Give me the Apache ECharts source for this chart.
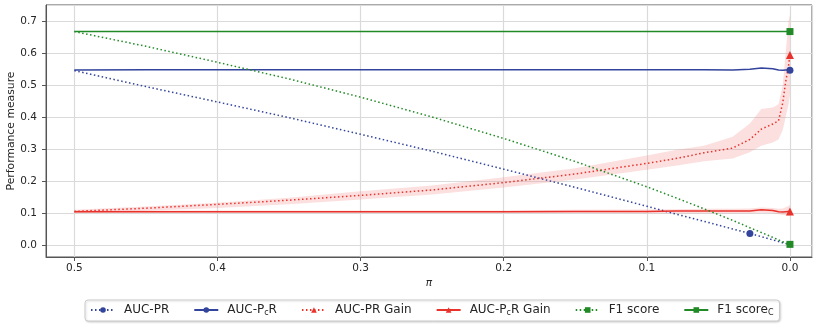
<!DOCTYPE html>
<html>
<head>
<meta charset="utf-8">
<script src="https://cdn.jsdelivr.net/npm/echarts@6/dist/echarts.min.js"></script>
<style>
  html, body { margin: 0; padding: 0; background: #fff; }
  #chart { width: 814px; height: 324px; }
</style>
</head>
<body>
<div id="chart"></div>
<script>
// Class prior π (x axis, drawn decreasing to the right)
const piValues = [0.5, 0.45, 0.4, 0.35, 0.3, 0.25, 0.2, 0.15, 0.1, 0.08, 0.06, 0.04, 0.028, 0.02, 0.012, 0.008, 0.005, 0.003, 0.001, 0];

// Performance measures at each π
const aucPR       = [0.545, 0.495, 0.447, 0.398, 0.346, 0.293, 0.237, 0.180, 0.121, 0.097, 0.074, 0.050, 0.036, 0.026, 0.016, 0.011, 0.007, 0.005, 0.003, 0.002];
const aucPcR      = [0.547, 0.548, 0.548, 0.548, 0.548, 0.548, 0.548, 0.548, 0.548, 0.548, 0.548, 0.547, 0.549, 0.553, 0.551, 0.547, 0.546, 0.547, 0.547, 0.546];
const aucPRGain   = [0.105, 0.115, 0.127, 0.140, 0.155, 0.172, 0.195, 0.222, 0.255, 0.270, 0.288, 0.303, 0.330, 0.362, 0.378, 0.388, 0.445, 0.510, 0.560, 0.594];
const aucPcRGain  = [0.104, 0.104, 0.104, 0.104, 0.104, 0.104, 0.104, 0.105, 0.105, 0.106, 0.106, 0.106, 0.106, 0.110, 0.108, 0.104, 0.103, 0.104, 0.105, 0.105];
const f1Score     = [0.667, 0.621, 0.571, 0.519, 0.462, 0.400, 0.333, 0.261, 0.182, 0.148, 0.113, 0.077, 0.054, 0.039, 0.024, 0.016, 0.010, 0.006, 0.002, 0.002];
const f1ScoreC    = [0.667, 0.667, 0.667, 0.667, 0.667, 0.667, 0.667, 0.667, 0.667, 0.667, 0.667, 0.667, 0.667, 0.667, 0.667, 0.667, 0.667, 0.667, 0.667, 0.667];

// Spread (lower / upper) around the gain curves
const aucPRGainLow  = [0.100, 0.107, 0.116, 0.127, 0.142, 0.158, 0.180, 0.205, 0.235, 0.248, 0.262, 0.270, 0.290, 0.310, 0.320, 0.330, 0.360, 0.400, 0.440, 0.470];
const aucPRGainHigh = [0.110, 0.120, 0.132, 0.148, 0.168, 0.186, 0.212, 0.240, 0.280, 0.297, 0.310, 0.338, 0.380, 0.425, 0.430, 0.440, 0.500, 0.600, 0.700, 0.720];
const aucPcRGainLow  = [0.100, 0.100, 0.100, 0.100, 0.100, 0.100, 0.100, 0.100, 0.099, 0.099, 0.099, 0.099, 0.099, 0.101, 0.099, 0.096, 0.094, 0.093, 0.091, 0.090];
const aucPcRGainHigh = [0.108, 0.108, 0.108, 0.108, 0.108, 0.108, 0.108, 0.110, 0.111, 0.112, 0.113, 0.113, 0.114, 0.117, 0.116, 0.113, 0.114, 0.118, 0.122, 0.125];

const seriesNames  = ['AUC-PR', 'AUC-PcR', 'AUC-PR Gain', 'AUC-PcR Gain', 'F1 score', 'F1 scoreC'];
const legendLabels = ['AUC-PR', 'AUC-P{s|c}R', 'AUC-PR Gain', 'AUC-P{s|c}R Gain', 'F1 score', 'F1 score{s|C}'];
const markerIndex  = [12, 19, 19, 19, 19, 19];

const BLUE = '#33449c', RED = '#e8322b', GREEN = '#218a26';
const DOTS = [1.5, 2.5];

const chart = echarts.init(document.getElementById('chart'), null, { renderer: 'canvas' });

function points(vals, mark) {
  return piValues.map((x, i) => i === mark
    ? { value: [x, vals[i]] }
    : { value: [x, vals[i]], symbol: 'none' });
}

function lineSeries(idx, vals, color, dotted, symbol, size) {
  return {
    type: 'line',
    name: seriesNames[idx],
    data: points(vals, markerIndex[idx]),
    symbol: symbol,
    symbolSize: size,
    showSymbol: true,
    showAllSymbol: true,
    animation: false,
    z: 3,
    lineStyle: { color: color, width: 1.5, type: dotted ? DOTS : 'solid', cap: 'butt' },
    itemStyle: { color: color, borderWidth: 0 },
    emphasis: { disabled: true }
  };
}

function bandSeries(low, high, fill) {
  return {
    type: 'custom',
    silent: true,
    animation: false,
    z: 1,
    data: piValues.map((x, i) => [x, low[i], high[i]]),
    encode: { x: 0, y: [1, 2] },
    renderItem: function (params, api) {
      if (params.dataIndex !== 0) return null;
      const upper = piValues.map((x, i) => api.coord([x, high[i]]));
      const lower = piValues.map((x, i) => api.coord([x, low[i]])).reverse();
      return {
        type: 'polygon',
        shape: { points: upper.concat(lower) },
        style: { fill: fill, stroke: null }
      };
    }
  };
}

const labelColor = '#262626';
const spine = '#555555';

const option = {
  backgroundColor: '#ffffff',
  animation: false,
  textStyle: { fontFamily: 'DejaVu Sans' },
  grid: {
    left: 46, right: 2, top: 5, bottom: 67,
    show: true, borderColor: spine, borderWidth: 1,
    containLabel: false, outerBoundsMode: 'none'
  },
  xAxis: {
    type: 'value',
    inverse: true,
    min: -0.0154,
    max: 0.5198,
    splitNumber: 5,
    name: 'π',
    nameLocation: 'middle',
    nameGap: 21,
    nameMoveOverlap: false,
    nameTextStyle: { fontStyle: 'italic', fontSize: 10.5, color: labelColor, fontFamily: 'DejaVu Sans' },
    axisLine: { show: true, onZero: false, lineStyle: { color: spine, width: 1 } },
    axisTick: { show: true, inside: false, length: 4, lineStyle: { color: spine } },
    axisLabel: {
      fontSize: 10.5, color: labelColor, margin: 6, showMinLabel: false, showMaxLabel: false,
      formatter: v => v.toFixed(1)
    },
    splitLine: { show: true, lineStyle: { color: '#dadada', width: 1.2 } }
  },
  yAxis: {
    type: 'value',
    min: -0.0375,
    max: 0.75,
    splitNumber: 7,
    name: 'Performance measure',
    nameLocation: 'middle',
    nameGap: 29,
    nameMoveOverlap: false,
    nameTextStyle: { fontSize: 10.8, color: labelColor, fontFamily: 'DejaVu Sans' },
    axisLine: { show: true, onZero: false, lineStyle: { color: spine, width: 1 } },
    axisTick: { show: true, inside: false, length: 4, lineStyle: { color: spine } },
    axisLabel: {
      fontSize: 10.5, color: labelColor, margin: 9, showMinLabel: false, showMaxLabel: false,
      formatter: v => v.toFixed(1)
    },
    splitLine: { show: true, lineStyle: { color: '#dadada', width: 1.2 } }
  },
  legend: {
    data: seriesNames,
    left: 85,
    top: 300,
    orient: 'horizontal',
    itemWidth: 24,
    itemHeight: 7,
    itemGap: 24,
    padding: [4, 6, 4, 5],
    borderColor: '#cccccc',
    borderWidth: 1,
    borderRadius: 3,
    backgroundColor: '#ffffff',
    shadowColor: 'rgba(0,0,0,0.15)',
    shadowBlur: 2,
    shadowOffsetX: 1,
    shadowOffsetY: 1,
    formatter: name => legendLabels[seriesNames.indexOf(name)],
    textStyle: {
      fontSize: 12, color: labelColor, fontFamily: 'DejaVu Sans', padding: [0, 0, 0, 4],
      rich: { s: { fontSize: 8, verticalAlign: 'bottom', padding: [6, 0, 0, 0], fontFamily: 'DejaVu Sans', color: labelColor } }
    }
  },
  series: [
    bandSeries(aucPRGainLow, aucPRGainHigh, 'rgba(245,140,140,0.28)'),
    bandSeries(aucPcRGainLow, aucPcRGainHigh, 'rgba(245,140,140,0.28)'),
    lineSeries(0, aucPR, BLUE, true, 'circle', 7),
    lineSeries(1, aucPcR, BLUE, false, 'circle', 7),
    lineSeries(2, aucPRGain, RED, true, 'triangle', 8),
    lineSeries(3, aucPcRGain, RED, false, 'triangle', 8),
    lineSeries(4, f1Score, GREEN, true, 'rect', 7),
    lineSeries(5, f1ScoreC, GREEN, false, 'rect', 7)
  ]
};

chart.setOption(option);
</script>
</body>
</html>
